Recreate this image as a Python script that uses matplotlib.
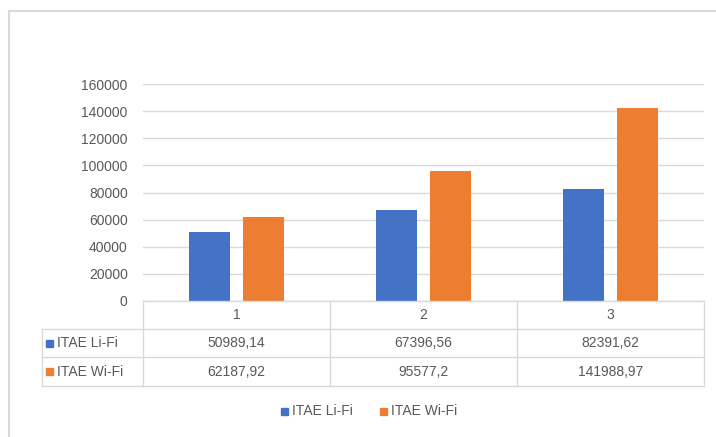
import matplotlib
matplotlib.use("Agg")
import matplotlib.pyplot as plt
from matplotlib.patches import Rectangle
from matplotlib.lines import Line2D

categories = ["1", "2", "3"]
series_names = ["ITAE Li-Fi", "ITAE Wi-Fi"]
lifi = [50989.14, 67396.56, 82391.62]
wifi = [62187.92, 95577.2, 141988.97]
yticks = [0, 20000, 40000, 60000, 80000, 100000, 120000, 140000, 160000]
colors = ["#4472C4", "#ED7D31"]

W, H = 716, 437
plt.rcParams['font.family'] = ['Liberation Sans', 'DejaVu Sans']
txt = "#595959"
grid = "#D9D9D9"
fs = 10

fig = plt.figure(figsize=(W / 100, H / 100), dpi=100)

def fx(px):
    return px / W

def fy(py):
    return 1 - py / H

# outer frame (top and left edges visible; the rest is cropped)
fig.add_artist(Line2D([fx(9), 1.0], [fy(11), fy(11)], color="#D9D9D9", lw=1.5))
fig.add_artist(Line2D([fx(9), fx(9)], [fy(11), 0.0], color="#D9D9D9", lw=1.5))

x0, x1 = 143, 704
ytop, ybot = 84, 301
ax = fig.add_axes([fx(x0), fy(ybot), fx(x1) - fx(x0), fy(ytop) - fy(ybot)])
n = len(categories)
xs = list(range(n))
off, bw = 0.145, 0.22
ax.bar([x - off for x in xs], lifi, width=bw, color=colors[0], zorder=3)
ax.bar([x + off for x in xs], wifi, width=bw, color=colors[1], zorder=3)
ax.set_xlim(-0.5, n - 0.5)
ax.set_ylim(0, 160000)
ax.set_yticks(yticks)
ax.set_yticklabels([str(v) for v in yticks], color=txt, fontsize=fs)
ax.tick_params(axis='y', length=0, pad=11)
ax.set_xticks([])
ax.yaxis.grid(True, color=grid, linewidth=1)
for s in ax.spines.values():
    s.set_visible(False)

# data table
tleft = 42
rows_y = [301, 329, 357, 386]
colx = [x0 + (x1 - x0) * i / n for i in range(n + 1)]
lc = "#D9D9D9"
def hline(y, xa, xb):
    fig.add_artist(Line2D([fx(xa), fx(xb)], [fy(y), fy(y)], color=lc, lw=1))
def vline(x, ya, yb):
    fig.add_artist(Line2D([fx(x), fx(x)], [fy(ya), fy(yb)], color=lc, lw=1))

hline(rows_y[0], x0, x1)
for y in rows_y[1:]:
    hline(y, tleft, x1)
vline(tleft, rows_y[1], rows_y[3])
for x in colx:
    vline(x, rows_y[0], rows_y[3])

def ymid(i):
    return (rows_y[i] + rows_y[i + 1]) / 2

for j, c in enumerate(categories):
    fig.text(fx((colx[j] + colx[j + 1]) / 2), fy(ymid(0)), c, ha='center', va='center',
             color=txt, fontsize=fs)

def fmt(v):
    return str(v).replace('.', ',')

for i, (name, vals) in enumerate(zip(series_names, [lifi, wifi])):
    yc = ymid(i + 1)
    fig.patches.append(Rectangle((fx(46), fy(yc + 3.5)), fx(7), fy(yc - 3.5) - fy(yc + 3.5),
                                 transform=fig.transFigure, color=colors[i]))
    fig.text(fx(57), fy(yc), name, ha='left', va='center', color=txt, fontsize=fs)
    for j, v in enumerate(vals):
        fig.text(fx((colx[j] + colx[j + 1]) / 2), fy(yc), fmt(v), ha='center', va='center',
                 color=txt, fontsize=fs)

# legend
ly = 411
for mx, name, col in [(281, series_names[0], colors[0]), (380, series_names[1], colors[1])]:
    fig.patches.append(Rectangle((fx(mx), fy(ly + 3.5)), fx(7), fy(ly - 3.5) - fy(ly + 3.5),
                                 transform=fig.transFigure, color=col))
    fig.text(fx(mx + 11), fy(ly), name, ha='left', va='center', color=txt, fontsize=fs)

fig.savefig("out.png", dpi=100)
